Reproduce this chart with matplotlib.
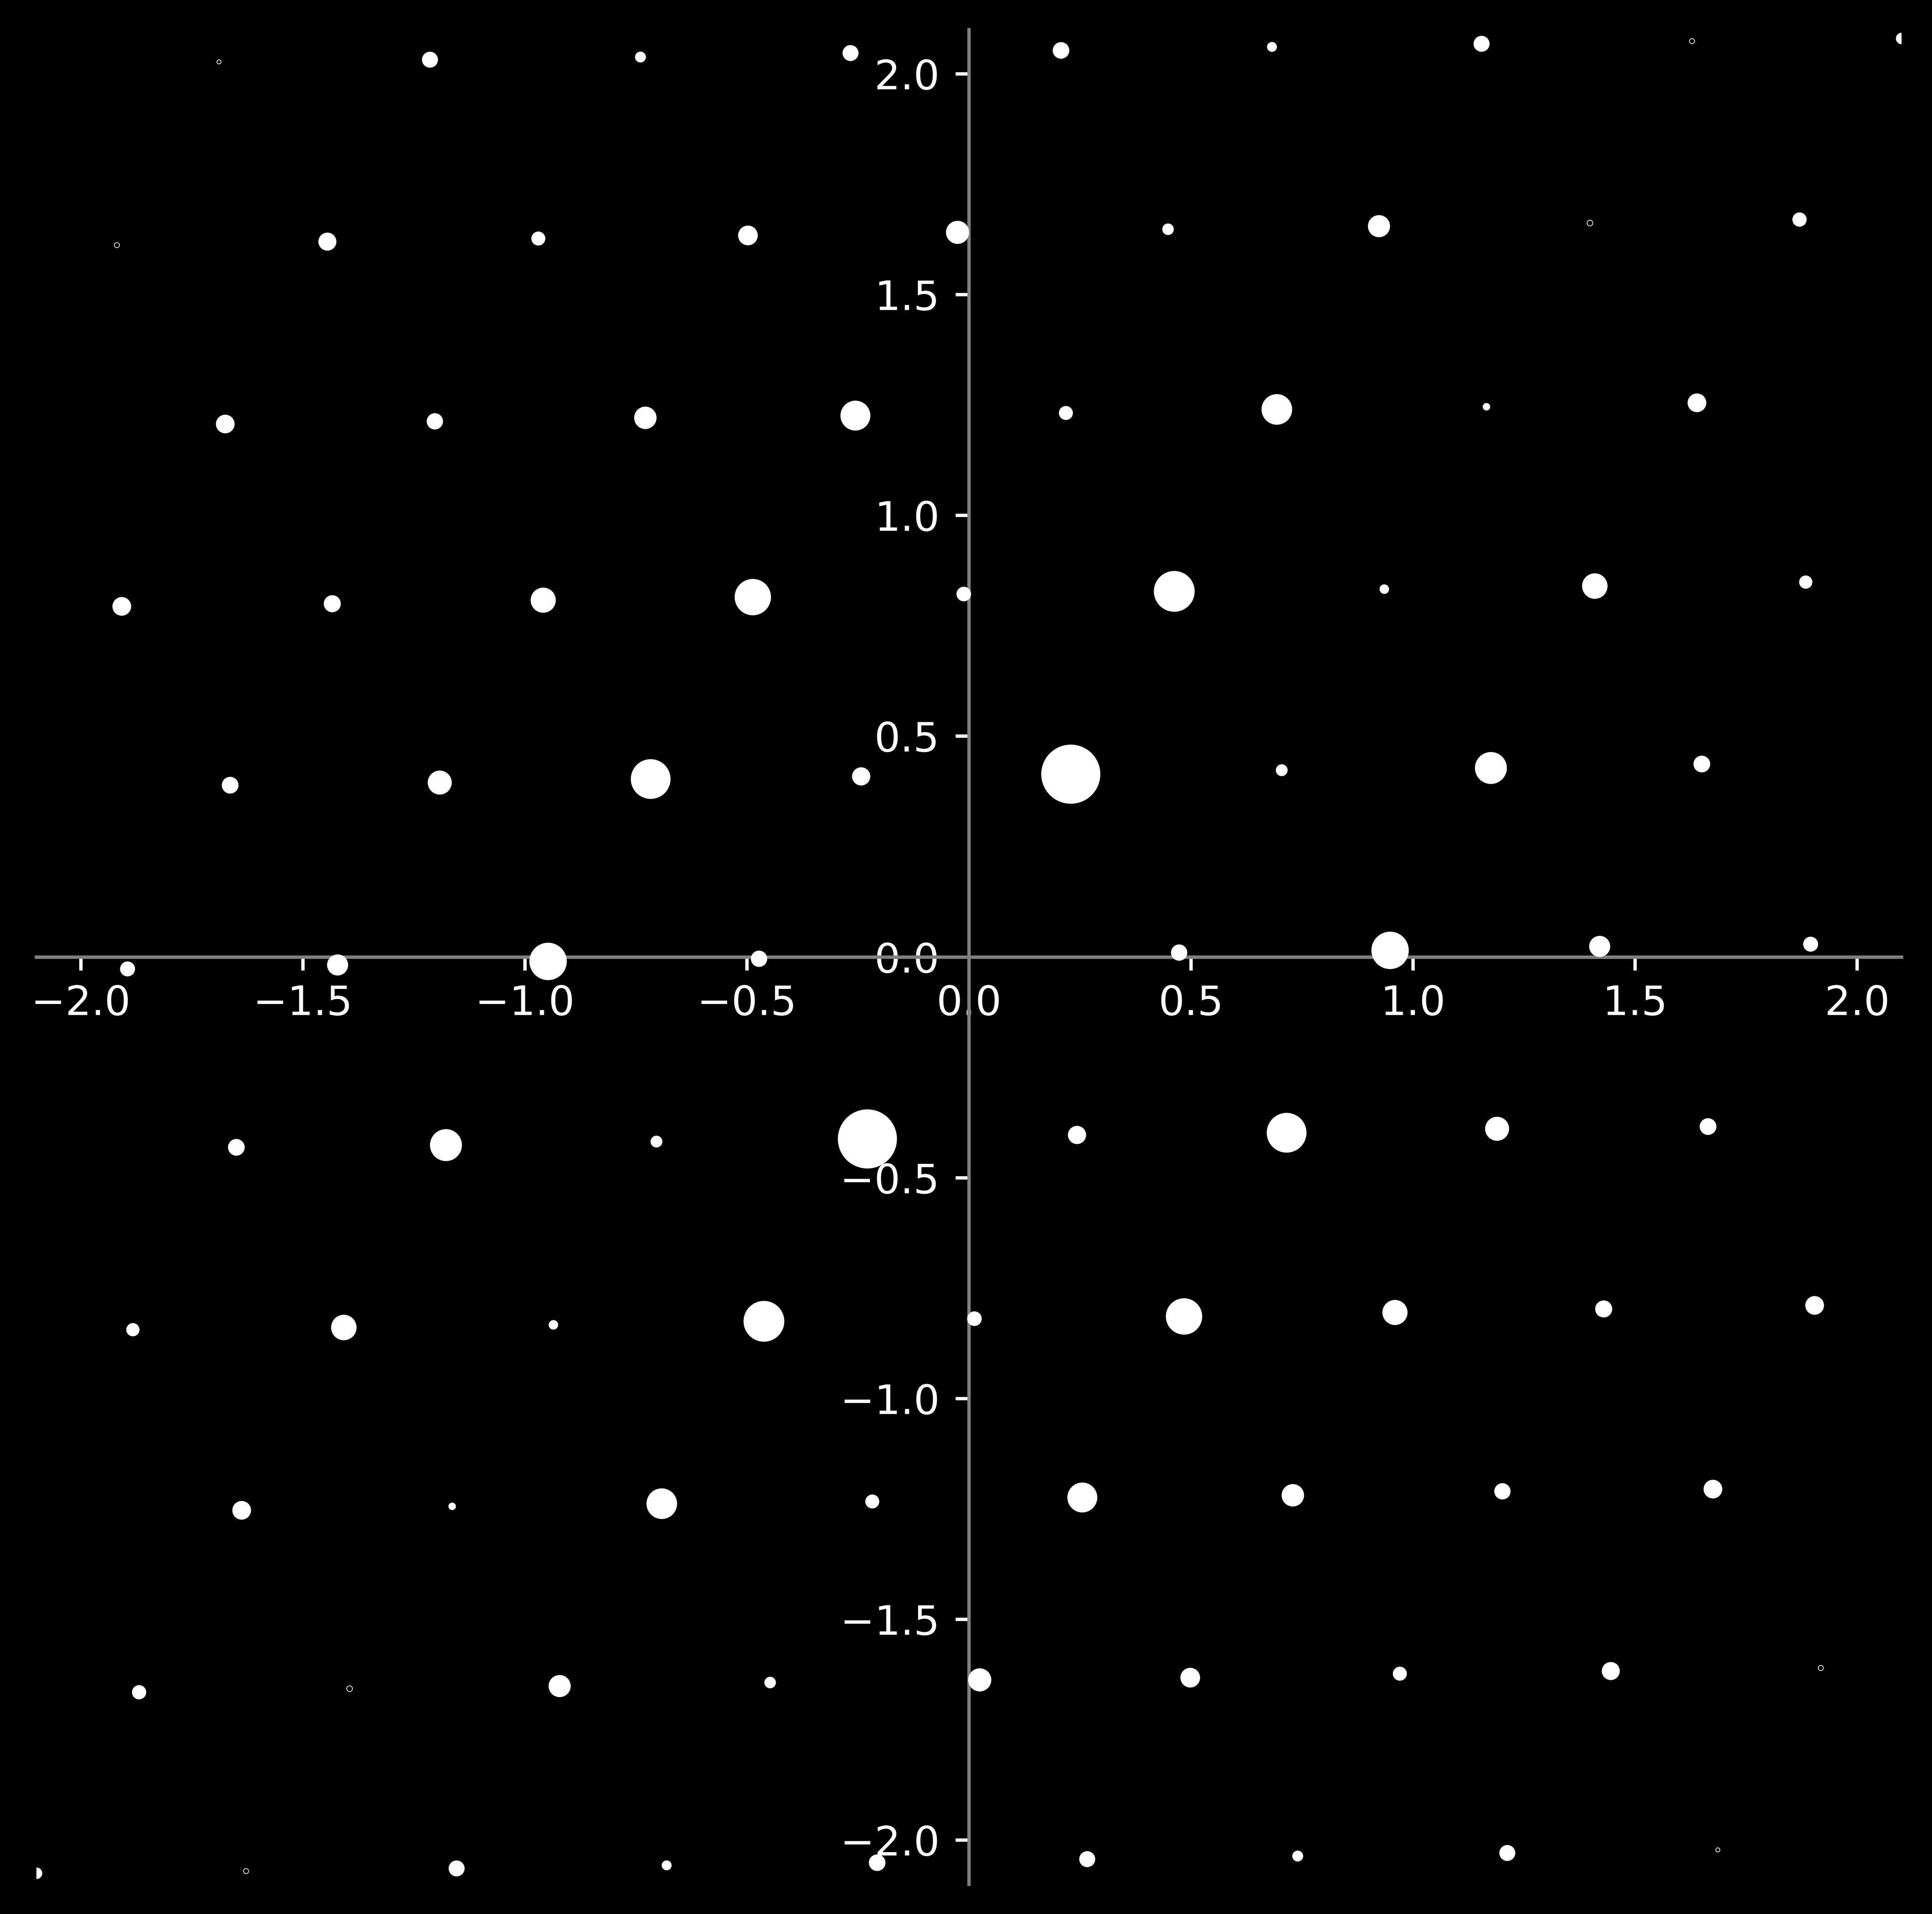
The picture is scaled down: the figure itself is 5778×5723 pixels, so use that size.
import matplotlib
matplotlib.use("Agg")
import matplotlib.pyplot as plt
import numpy as np

# diffraction spots, row by row (top to bottom)
spot_x = [
    -1.689, -1.214, -0.740, -0.267, 0.207, 0.682, 1.154, 1.628, 2.100,
    -1.919, -1.445, -0.970, -0.498, -0.026, 0.448, 0.923, 1.398, 1.870,
    -1.675, -1.203, -0.729, -0.256, 0.218, 0.693, 1.165, 1.639,
    -1.908, -1.434, -0.959, -0.487, -0.012, 0.462, 0.935, 1.409, 1.884,
    -1.664, -1.192, -0.717, -0.243, 0.229, 0.704, 1.175, 1.650,
    -1.895, -1.422, -0.948, -0.473, 0.473, 0.948, 1.420, 1.895,
    -1.650, -1.178, -0.704, -0.229, 0.243, 0.715, 1.189, 1.664,
    -1.883, -1.408, -0.936, -0.462, 0.012, 0.484, 0.959, 1.429, 1.904,
    -1.638, -1.164, -0.692, -0.218, 0.255, 0.729, 1.201, 1.675,
    -1.869, -1.395, -0.922, -0.448, 0.024, 0.498, 0.970, 1.445, 1.918,
    -2.100, -1.628, -1.154, -0.681, -0.207, 0.266, 0.740, 1.212, 1.686,
]
spot_y = [
    2.027, 2.032, 2.038, 2.047, 2.053, 2.061, 2.068, 2.074, 2.080,
    1.612, 1.620, 1.627, 1.634, 1.641, 1.648, 1.655, 1.662, 1.670,
    1.207, 1.213, 1.221, 1.226, 1.232, 1.240, 1.246, 1.255,
    0.794, 0.800, 0.808, 0.815, 0.822, 0.828, 0.833, 0.840, 0.849,
    0.389, 0.395, 0.403, 0.409, 0.414, 0.423, 0.428, 0.437,
    -0.027, -0.018, -0.010, -0.004, 0.010, 0.015, 0.024, 0.029,
    -0.431, -0.426, -0.418, -0.412, -0.403, -0.398, -0.389, -0.384,
    -0.844, -0.839, -0.833, -0.825, -0.819, -0.814, -0.805, -0.797, -0.789,
    -1.253, -1.244, -1.238, -1.233, -1.224, -1.219, -1.210, -1.205,
    -1.665, -1.657, -1.651, -1.643, -1.637, -1.632, -1.623, -1.617, -1.610,
    -2.075, -2.070, -2.064, -2.057, -2.051, -2.043, -2.036, -2.029, -2.022,
]
# relative intensity (strongest spot = 100)
spot_intensity = [
    0.48, 7.3, 3.4, 7.3, 7.9, 2.8, 7.3, 0.74, 3.8,
    0.74, 9.3, 5.6, 11.1, 15.3, 3.8, 14.0, 0.95, 5.8,
    10.0, 7.6, 14.4, 25.6, 5.6, 26.8, 1.6, 10.0,
    10.0, 8.3, 18.1, 37.8, 6.1, 47.6, 2.6, 18.6, 5.0,
    8.0, 16.5, 45.2, 9.5, 100.0, 4.0, 29.2, 8.0,
    6.4, 12.7, 40.0, 7.6, 7.6, 40.0, 12.7, 6.4,
    8.0, 29.2, 4.0, 100.0, 9.5, 45.2, 16.5, 8.0,
    5.0, 18.6, 2.6, 47.6, 6.1, 37.8, 18.1, 8.3, 10.0,
    10.0, 1.6, 26.8, 5.6, 25.6, 14.4, 7.6, 10.0,
    5.8, 0.95, 14.0, 3.8, 15.3, 11.1, 5.6, 9.3, 0.74,
    3.8, 0.74, 7.3, 2.8, 7.9, 7.3, 3.4, 7.3, 0.48,
]
tick_values = [-2.0, -1.5, -1.0, -0.5, 0.0, 0.5, 1.0, 1.5, 2.0]

DPI = 600
SIZE_SCALE = 4.5  # marker area (pt^2) per unit of intensity

fig = plt.figure(figsize=(5778 / DPI, 5723 / DPI), dpi=DPI, facecolor='black')
ax = fig.add_axes([0.0189, 0.0155, 0.9654, 0.9690])
ax.set_facecolor('black')

x = np.array(spot_x)
y = np.array(spot_y)
inten = np.array(spot_intensity)
faint = inten < 1.0

ax.scatter(x[~faint], y[~faint], s=inten[~faint] * SIZE_SCALE, c='white',
           linewidths=0, zorder=3)
# the faintest spots come out as little hollow rings
ax.scatter(x[faint], y[faint], s=inten[faint] * SIZE_SCALE, facecolors='black',
           edgecolors='white', linewidths=0.25, zorder=3)

ax.set_xlim(-2.1, 2.1)
ax.set_ylim(-2.1, 2.1)
ax.set_xticks(tick_values)
ax.set_yticks(tick_values)

for side in ['top', 'right']:
    ax.spines[side].set_visible(False)
for side in ['left', 'bottom']:
    ax.spines[side].set_position(('data', 0))
    ax.spines[side].set_color('#808080')
    ax.spines[side].set_linewidth(1.2)

ax.tick_params(colors='white', length=4.8, width=1.2, labelsize=14.7)
ax.tick_params(axis='x', pad=5)
ax.tick_params(axis='y', pad=5.8)

fig.savefig('out.png', dpi=DPI, facecolor='black')
